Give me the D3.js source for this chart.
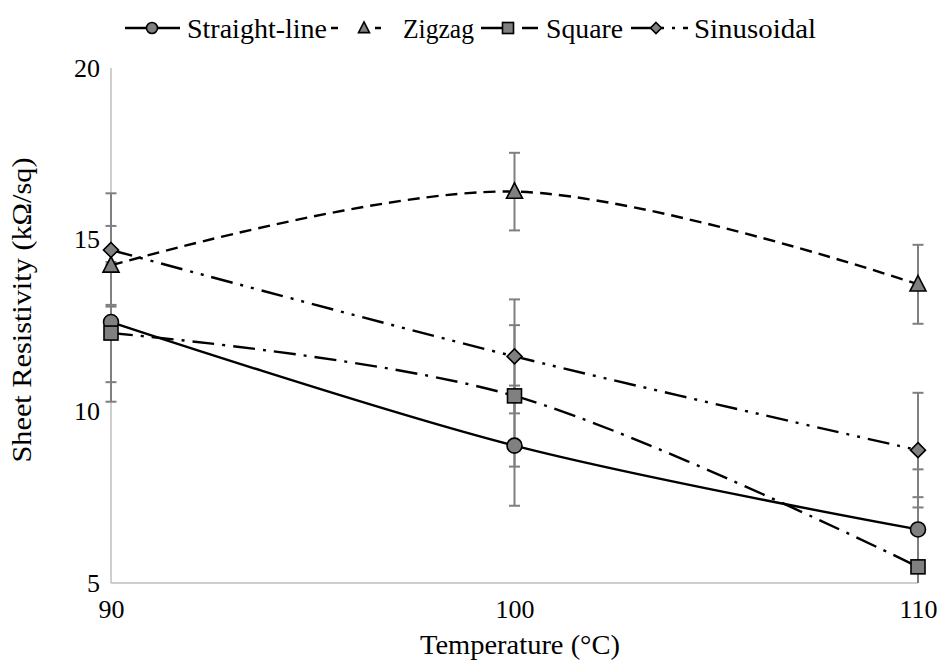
<!DOCTYPE html>
<html><head><meta charset="utf-8">
<script src="https://cdn.jsdelivr.net/npm/d3@7"></script>
<style>body{margin:0;background:#fff}svg text{font-family:"Liberation Serif",serif;fill:#000}</style>
</head><body><svg id="c" width="941" height="666"></svg>
<script>
const temps = [90, 100, 110];
const seriesNames = ["Straight-line", "Zigzag", "Square", "Sinusoidal"];
const straightLine = [12.6, 9.0, 6.56];
const zigzag = [14.25, 16.4, 13.7];
const square = [12.28, 10.45, 5.47];
const sinusoidal = [14.7, 11.6, 8.87];
const errStraight = [1.75, 1.75, 1.75];
const errZigzag = [1.15, 1.13, 1.15];
const errSquare = [2.0, 2.06, 2.03];
const errSinus = [1.65, 1.66, 1.67];
const yTicks = [5, 10, 15, 20];
const xTicks = [90, 100, 110];

const series = [
  {name: seriesNames[0], values: straightLine, err: errStraight, marker: "circle", dash: null, ldash: null},
  {name: seriesNames[1], values: zigzag, err: errZigzag, marker: "triangle", dash: "12,7", ldash: "7,37,6"},
  {name: seriesNames[2], values: square, err: errSquare, marker: "square", dash: "22,8,3,8", ldash: "22,8,3,8"},
  {name: seriesNames[3], values: sinusoidal, err: errSinus, marker: "diamond", dash: "22,8,3,8,3,8", ldash: "22,8,3,8,3,8"}
];

const svg = d3.select("#c");
const x = d3.scaleLinear().domain([90, 110]).range([111, 918]);
const y = d3.scaleLinear().domain([5, 20]).range([583, 68]);

svg.append("defs").append("clipPath").attr("id", "clip")
  .append("rect").attr("x", 0).attr("y", y(20) - 5).attr("width", 941).attr("height", y(5) - y(20) + 5);

// axes lines
svg.append("line").attr("x1", x(90)).attr("x2", x(90)).attr("y1", y(20)).attr("y2", y(5)).attr("stroke", "#bfbfbf").attr("stroke-width", 1.5);
svg.append("line").attr("x1", x(90)).attr("x2", x(110)).attr("y1", y(5)).attr("y2", y(5)).attr("stroke", "#bfbfbf").attr("stroke-width", 1.5);

// tick labels
const yAxis = d3.axisLeft(y).tickValues(yTicks).tickSize(0).tickPadding(11);
const ga = svg.append("g").attr("transform", `translate(${x(90)},0)`).call(yAxis);
ga.select(".domain").remove();
ga.selectAll("text").attr("font-size", 26).attr("font-family", "Liberation Serif");
const xAxis = d3.axisBottom(x).tickValues(xTicks).tickSize(0).tickPadding(17);
const gx = svg.append("g").attr("transform", `translate(0,${y(5)})`).call(xAxis);
gx.select(".domain").remove();
gx.selectAll("text").attr("font-size", 26).attr("font-family", "Liberation Serif");

// titles
svg.append("text").attr("x", 520).attr("y", 654).attr("text-anchor", "middle").attr("font-size", 28)
  .attr("textLength", 200).attr("lengthAdjust", "spacingAndGlyphs").text("Temperature (°C)");
svg.append("text").attr("transform", "translate(31,310) rotate(-90)").attr("text-anchor", "middle").attr("font-size", 28)
  .attr("textLength", 305).attr("lengthAdjust", "spacingAndGlyphs").text("Sheet Resistivity (kΩ/sq)");

// error bars
const eb = svg.append("g").attr("clip-path", "url(#clip)");
series.forEach(s => {
  s.values.forEach((v, i) => {
    const cx = x(temps[i]);
    const hi = y(v + s.err[i]), lo = y(v - s.err[i]);
    eb.append("line").attr("x1", cx).attr("x2", cx).attr("y1", hi).attr("y2", lo).attr("stroke", "#7f7f7f").attr("stroke-width", 2);
    [hi, lo].forEach(yy => eb.append("line").attr("x1", cx - 5.5).attr("x2", cx + 5.5).attr("y1", yy).attr("y2", yy).attr("stroke", "#7f7f7f").attr("stroke-width", 2));
  });
});

// lines
const line = d3.line().x((d, i) => x(temps[i])).y(d => y(d)).curve(d3.curveCardinal.tension(0));
series.forEach(s => {
  svg.append("path").attr("d", line(s.values)).attr("fill", "none").attr("stroke", "#000")
    .attr("stroke-width", 2.4).attr("stroke-dasharray", s.dash);
});

function marker(g, type, cx, cy, sz) {
  let el;
  if (type === "circle") el = g.append("circle").attr("cx", cx).attr("cy", cy).attr("r", sz / 2);
  else if (type === "square") el = g.append("rect").attr("x", cx - sz / 2).attr("y", cy - sz / 2).attr("width", sz).attr("height", sz);
  else if (type === "triangle") el = g.append("path").attr("d", `M${cx},${cy - sz * 0.55}L${cx + sz / 2},${cy + sz * 0.42}L${cx - sz / 2},${cy + sz * 0.42}Z`);
  else el = g.append("path").attr("d", `M${cx},${cy - sz / 2}L${cx + sz / 2},${cy}L${cx},${cy + sz / 2}L${cx - sz / 2},${cy}Z`);
  el.attr("fill", "#808080").attr("stroke", "#000").attr("stroke-width", 1.6);
}
const mg = svg.append("g");
const sizes = {circle: 15, square: 14, triangle: 16, diamond: 15};
series.forEach(s => s.values.forEach((v, i) => marker(mg, s.marker, x(temps[i]), y(v), sizes[s.marker])));

// legend
const legend = [
  {x0: 125, x1: 180, m: 152, tx: 187, w: 140},
  {x0: 331, x1: 381, m: 364, tx: 403, w: 71},
  {x0: 481, x1: 538, m: 508, tx: 546, w: 77},
  {x0: 631, x1: 688, m: 656, tx: 694, w: 122}
];
const ly = 28;
const lg = svg.append("g");
series.forEach((s, k) => {
  const L = legend[k];
  lg.append("line").attr("x1", L.x0).attr("x2", L.x1).attr("y1", ly).attr("y2", ly).attr("stroke", "#000").attr("stroke-width", 2.4).attr("stroke-dasharray", s.ldash);
  marker(lg, s.marker, L.m, ly, 11);
  lg.append("text").attr("x", L.tx).attr("y", ly).attr("dy", "0.35em").attr("font-size", 28)
    .attr("textLength", L.w).attr("lengthAdjust", "spacingAndGlyphs").text(s.name);
});
</script></body></html>
